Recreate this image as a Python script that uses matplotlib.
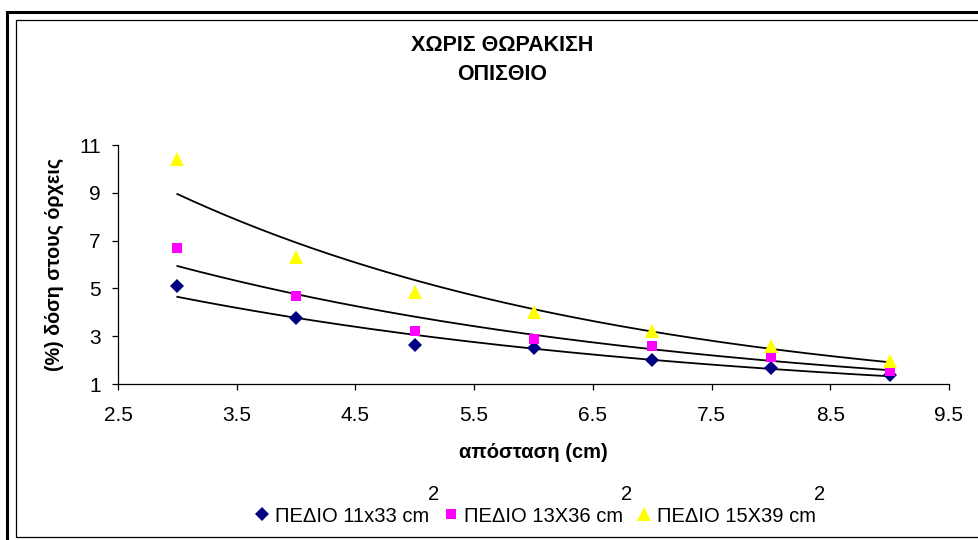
import numpy as np
import matplotlib
matplotlib.use("Agg")
import matplotlib.pyplot as plt
from matplotlib.patches import Rectangle

plt.rcParams['font.family'] = ['Liberation Sans', 'DejaVu Sans']

# Data
distance = [3, 4, 5, 6, 7, 8, 9]
field_11x33 = [5.1, 3.75, 2.65, 2.5, 2.0, 1.67, 1.36]
field_13x36 = [6.7, 4.7, 3.2, 2.9, 2.6, 2.15, 1.54]
field_15x39 = [10.4, 6.3, 4.85, 4.0, 3.2, 2.6, 1.95]
series_labels = ["ΠΕΔΙΟ 11x33 cm", "ΠΕΔΙΟ 13X36 cm", "ΠΕΔΙΟ 15X39 cm"]
x_ticks = [2.5, 3.5, 4.5, 5.5, 6.5, 7.5, 8.5, 9.5]
y_ticks = [1, 3, 5, 7, 9, 11]
title_text = "ΧΩΡΙΣ ΘΩΡΑΚΙΣΗ\nΟΠΙΣΘΙΟ"
xlabel_text = "απόσταση (cm)"
ylabel_text = "(%) δόση στους όρχεις"

W, H = 979, 540
fig = plt.figure(figsize=(W / 100, H / 100), dpi=100)

def fx(px):
    return px / W

def fy(py):
    return 1 - py / H

# Borders
fig.patches.append(Rectangle((fx(7), fy(545)), fx(985) - fx(7), fy(12) - fy(545),
                             transform=fig.transFigure, fill=False, ec='black', lw=2.2))
fig.patches.append(Rectangle((fx(16), fy(537)), fx(990) - fx(16), fy(20) - fy(537),
                             transform=fig.transFigure, fill=False, ec='black', lw=0.9))

ax = fig.add_axes([fx(118), fy(384), fx(949) - fx(118), fy(145) - fy(384)])

styles = [
    dict(marker='D', color='#000080', ms=7.2),
    dict(marker='s', color='#FF00FF', ms=7.2),
    dict(marker='^', color='#FFFF00', ms=9.5),
]
data = [field_11x33, field_13x36, field_15x39]

x = np.array(distance, dtype=float)
xs = np.linspace(3, 9, 200)
handles = []
for vals in data:
    y = np.array(vals)
    m, b = np.polyfit(x, np.log(y), 1)
    ax.plot(xs, np.exp(b) * np.exp(m * xs), color='black', lw=1.3, zorder=2)
for vals, st, lab in zip(data, styles, series_labels):
    h, = ax.plot(distance, vals, linestyle='none', marker=st['marker'],
                 color=st['color'], markersize=st['ms'], markeredgewidth=0, zorder=3, label=lab)
    handles.append(h)

ax.set_xlim(2.5, 9.5)
ax.set_ylim(1, 11)
ax.set_xticks(x_ticks)
ax.set_xticklabels([f"{t:g}" for t in x_ticks])
ax.set_yticks(y_ticks)
ax.spines['top'].set_visible(False)
ax.spines['right'].set_visible(False)
for s in ['left', 'bottom']:
    ax.spines[s].set_linewidth(0.9)
ax.tick_params(axis='both', direction='out', length=4.5, width=0.9, labelsize=15, colors='black')
ax.tick_params(axis='x', pad=11)
ax.tick_params(axis='y', pad=8)

ax.set_xlabel(xlabel_text, fontsize=14.5, fontweight='bold', labelpad=13)
ax.set_ylabel(ylabel_text, fontsize=14.2, fontweight='bold', labelpad=11)

fig.text(fx(502), fy(60), title_text, ha='center', va='center', fontsize=15.5,
         fontweight='bold', linespacing=1.5)

leg = fig.legend(handles=handles, labels=series_labels, loc='center',
                 bbox_to_anchor=(fx(536), fy(516)), ncol=3, frameon=False,
                 fontsize=14.5, handlelength=0.6, handletextpad=0.35, columnspacing=0.75,
                 borderpad=0, borderaxespad=0)

fig.canvas.draw()
renderer = fig.canvas.get_renderer()
for t in leg.get_texts():
    bb = t.get_window_extent(renderer)
    fig.text(bb.x1 / W + fx(4), fy(494), "2", ha='center', va='center', fontsize=14.5)

fig.savefig("out.png", dpi=100)
